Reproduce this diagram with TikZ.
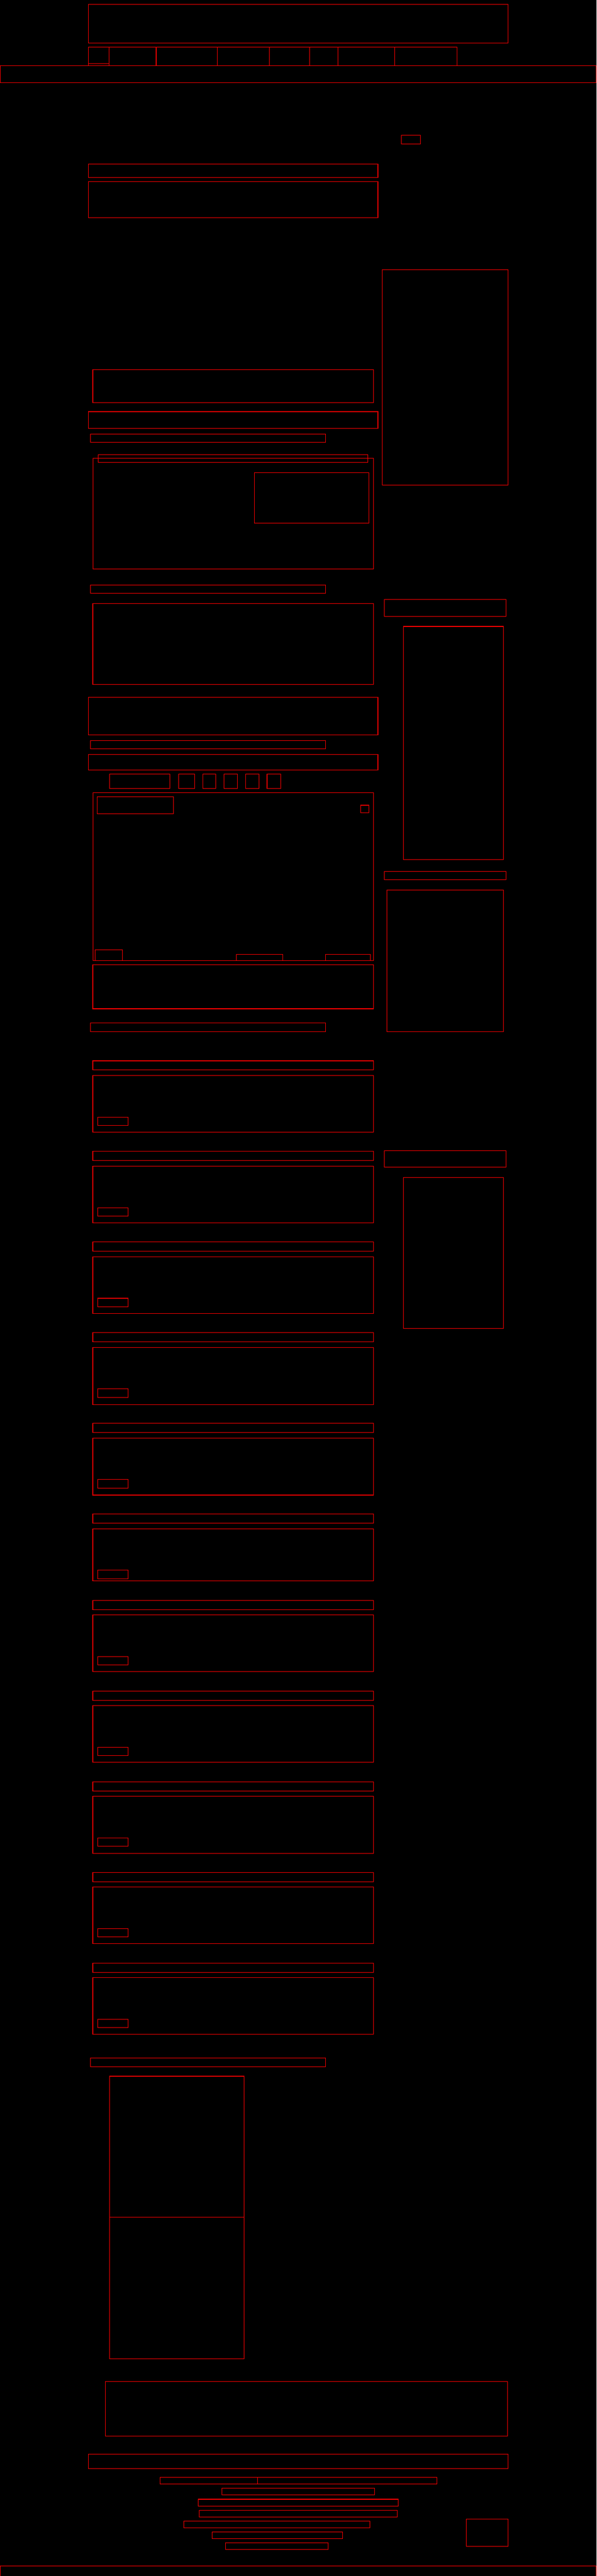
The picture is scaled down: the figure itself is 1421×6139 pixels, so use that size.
\documentclass[tikz,border=0pt]{standalone}
\begin{document}
\begin{tikzpicture}[x=1pt,y=-1pt,
  wire/.style={draw=red,line width=1.3pt},
  thinwire/.style={draw=red,line width=1pt}]
\useasboundingbox (0,0) rectangle (1421,6139);
\fill[black] (0,0) rectangle (1421,6139);
% header
\draw[wire] (210,10) rectangle (1210,102);
\draw[wire] (210,112) rectangle (1089,157);
\foreach \x in {260,372,517,642,737,805,940} \draw[wire] (\x,112) -- (\x,157);
\draw[wire] (210,112) rectangle (260,152);
\draw[wire] (0.6,157) rectangle (1420.4,197);
\draw[wire] (956,322) rectangle (1001,343);
\draw[wire] (210,391) rectangle (900,423);
\draw[wire] (210,433) rectangle (900,519);
% right column
\draw[wire] (910,643) rectangle (1210,1156);
\draw[wire] (915,1429) rectangle (1205,1469);
\draw[wire] (961,1493) rectangle (1199,2049);
\draw[wire] (915,2077) rectangle (1205,2097);
\draw[wire] (921,2121) rectangle (1199,2459);
\draw[wire] (915,2742) rectangle (1205,2782);
\draw[wire] (961,2806) rectangle (1199,3166);
% main column
\draw[wire] (221,881) rectangle (889,960);
\draw[wire] (210,981) rectangle (900,1021);
\draw[wire] (215,1034) rectangle (775,1054);
\draw[wire] (222,1092) rectangle (890,1356);
\draw[wire] (234,1083) rectangle (876,1102);
\draw[wire] (606,1127) rectangle (879,1247);
\draw[wire] (215,1394) rectangle (775,1414);
\draw[wire] (221,1438) rectangle (889,1631);
\draw[wire] (210,1662) rectangle (900,1752);
\draw[wire] (215,1765) rectangle (775,1785);
\draw[wire] (210,1798) rectangle (900,1835);
\foreach \a/\b in {261/405,425/464,483/514,534/565,585/617,636/668}
  \draw[wire] (\a,1845) rectangle (\b,1879);
\draw[wire] (222,1889) rectangle (890,2289);
\draw[wire] (231,1899) rectangle (413,1939);
\draw[wire] (859,1919) rectangle (878,1937);
\draw[wire] (226,2263) rectangle (292,2289);
\draw[wire] (563,2275) rectangle (673,2289);
\draw[wire] (775,2275) rectangle (882,2289);
\draw[wire] (221,2299) rectangle (889,2404);
\draw[wire] (215,2438) rectangle (775,2459);
% cards
\foreach \t/\h/\bt in {2528/170/134,2744/170/134,2960/170/134,3176/171/134,3392/171/134,3608/160/134,3814/170/134,4030/170/134,4246/171/134,4462/170/134,4678/170/134}{
  \draw[wire] (221,\t) rectangle (889,\t+22);
  \draw[wire] (221,\t+35) rectangle (889,\t+\h);
  \draw[wire] (233,\t+\bt) rectangle (305,\t+\bt+20);
}
\draw[wire] (215,4904) rectangle (775,4925);
\draw[wire] (261,4948) rectangle (581,5621);
\draw[wire] (261,5284) -- (581,5284);
\draw[wire] (251,5676) rectangle (1209,5806);
% footer
\draw[wire] (210,5849) rectangle (1210,5883);
\draw[wire] (381,5904) rectangle (1040,5920);
\draw[wire] (613,5904) -- (613,5920);
\draw[wire] (528,5930) rectangle (892,5946);
\draw[wire] (472,5956) rectangle (948,5972);
\draw[wire] (474,5982) rectangle (946,5998);
\draw[wire] (438,6008) rectangle (881,6024);
\draw[wire] (505,6034) rectangle (816,6050);
\draw[wire] (537,6060) rectangle (782,6076);
\draw[wire] (1110,6003) rectangle (1210,6068);
\draw[wire] (0.6,6115) rectangle (1420.4,6150);
\end{tikzpicture}
\end{document}
